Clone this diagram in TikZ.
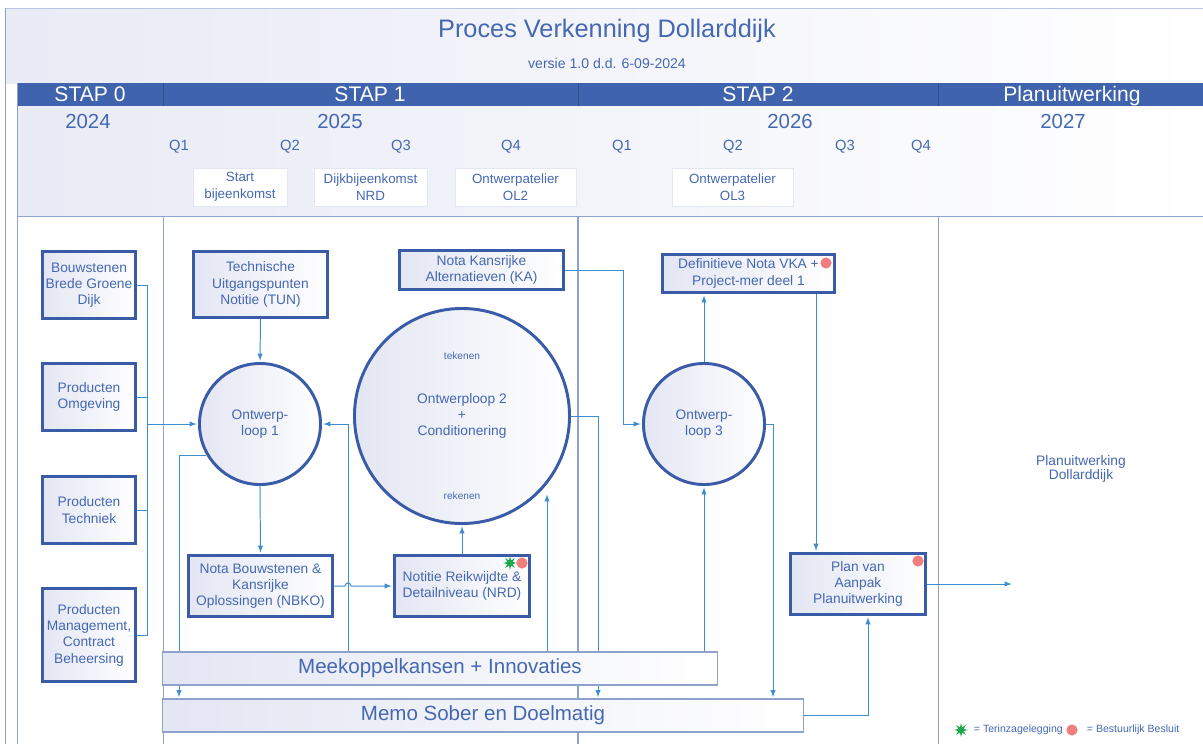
\documentclass[tikz,border=0pt]{standalone}
\usepackage{fontspec}
\setmainfont{Liberation Sans}
\usetikzlibrary{shapes.geometric}

\definecolor{band}{HTML}{3F63AD}
\definecolor{txt}{HTML}{4568B2}
\definecolor{rim}{HTML}{3A5BA8}
\definecolor{wire}{HTML}{3E8DD0}
\definecolor{rule}{HTML}{8EA2CE}
\definecolor{haze}{HTML}{E3E6F3}
\definecolor{besluit}{HTML}{F27F7F}
\definecolor{inzage}{HTML}{1FA84A}

\begin{document}
\begin{tikzpicture}[x=0.025cm,y=-0.025cm,>=latex,
    box/.style={draw=rim,line width=2.1pt,left color=haze,right color=white,text=txt,align=center,font=\fontsize{9.8}{11.6}\selectfont,inner sep=1pt},
    ring/.style={circle,draw=rim,line width=2.1pt,left color=haze,right color=white,text=txt,align=center,font=\fontsize{9.8}{11.6}\selectfont,inner sep=0pt},
    lane/.style={draw=rule,line width=0.8pt,left color=haze,right color=white,text=txt,font=\fontsize{14.6}{16}\selectfont,inner sep=0pt},
    eventbox/.style={draw=haze,line width=0.5pt,fill=white,text=txt,align=center,font=\fontsize{9.5}{12}\selectfont,inner sep=0pt,minimum height=0.95cm},
    tag/.style={text=txt,font=\fontsize{#1}{#1}\selectfont},
    stap/.style={text=white,anchor=base,font=\fontsize{15}{17}\selectfont},
    link/.style={draw=wire,line width=0.7pt,shorten >=1pt},
    reddot/.style={circle,fill=besluit,minimum size=0.28cm,inner sep=0pt},
    greenstar/.style={star,star points=8,star point ratio=2.4,fill=inzage,minimum size=0.34cm,inner sep=0pt}]

    \useasboundingbox (0,0) rectangle (1203,744);
    \fill[white] (0,0) rectangle (1203,744);

    \fill[left color=haze!80,right color=white] (5,8) rectangle (1203,83);
    \fill[left color=haze!80,right color=white] (17,106) rectangle (1203,216);
    \fill[band] (17,83) rectangle (1203,106);
    \draw[rule!60] (5,8) -- (1203,8);
    \draw[rule] (17,216) -- (1203,216);
    \draw[band!80!black] (163,83) -- (163,106);
    \draw[band!80!black] (578,83) -- (578,106);
    \draw[band!80!black] (938,83) -- (938,106);

    \draw[rule] (5,8) -- (5,744);
    \draw[rule] (17,83) -- (17,744);
    \draw[rule] (163,216) -- (163,744);
    \draw[rule,line width=1pt] (578,216) -- (578,744);
    \draw[rule] (938,216) -- (938,744);

    \node (title) at (607,31) [tag=18] {Proces Verkenning Dollarddijk};
    \node (versie) at (607,63) [tag=10] {versie 1.0 d.d. 6-09-2024};

    \node (stap0) at (90,101) [stap] {STAP 0};
    \node (stap1) at (370,101) [stap] {STAP 1};
    \node (stap2) at (758,101) [stap] {STAP 2};
    \node (stap3) at (1072,101) [stap] {Planuitwerking};

    \node (y2024) at (88,121) [tag=14.5] {2024};
    \node (y2025) at (340,121) [tag=14.5] {2025};
    \node (y2026) at (790,121) [tag=14.5] {2026};
    \node (y2027) at (1063,121) [tag=14.5] {2027};

    \node (q1a) at (179,147) [tag=10.5] {Q1};
    \node (q2a) at (290,147) [tag=10.5] {Q2};
    \node (q3a) at (401,147) [tag=10.5] {Q3};
    \node (q4a) at (511,147) [tag=10.5] {Q4};
    \node (q1b) at (622,147) [tag=10.5] {Q1};
    \node (q2b) at (733,147) [tag=10.5] {Q2};
    \node (q3b) at (845,147) [tag=10.5] {Q3};
    \node (q4b) at (921,147) [tag=10.5] {Q4};

    \node (start) at (240,187) [eventbox,minimum width=2.35cm] {Start\\bijeenkomst};
    \node (dijk) at (370.5,187) [eventbox,minimum width=2.825cm] {Dijkbijeenkomst\\NRD};
    \node (ol2event) at (515.5,187) [eventbox,minimum width=3.025cm] {Ontwerpatelier\\OL2};
    \node (ol3event) at (732.5,187) [eventbox,minimum width=3.025cm] {Ontwerpatelier\\OL3};

    \node (bgd) at (89,285) [box,minimum width=2.325cm,minimum height=1.675cm] {Bouwstenen\\Brede Groene\\Dijk};
    \node (pom) at (89,397) [box,minimum width=2.325cm,minimum height=1.675cm] {Producten\\Omgeving};
    \node (pte) at (89,510) [box,minimum width=2.325cm,minimum height=1.675cm] {Producten\\Techniek};
    \node (pmc) at (89,635) [box,minimum width=2.325cm,minimum height=2.325cm] {Producten\\Management,\\Contract\\Beheersing};

    \node (tun) at (260.5,284.5) [box,minimum width=3.35cm,minimum height=1.65cm] {Technische\\Uitgangspunten\\Notitie (TUN)};
    \node (ol1) at (260,424) [ring,minimum size=3.025cm] {Ontwerp-\\loop 1};
    \node (nbko) at (260.5,586) [box,minimum width=3.6cm,minimum height=1.525cm] {Nota Bouwstenen \&\\Kansrijke\\Oplossingen (NBKO)};
    \node (nrd) at (462,586) [box,minimum width=3.375cm,minimum height=1.525cm] {Notitie Reikwijdte \&\\Detailniveau (NRD)};

    \node (ka) at (481.5,270) [box,minimum width=4.1cm,minimum height=0.975cm] {Nota Kansrijke\\Alternatieven (KA)};
    \node (ol2) at (462,416) [ring,minimum size=5.375cm] {Ontwerploop 2\\+\\Conditionering};
    \node (tek) at (462,356) [tag=7.2] {tekenen};
    \node (rek) at (462,496) [tag=7.2] {rekenen};

    \node (ol3) at (704,424) [ring,minimum size=3.025cm] {Ontwerp-\\loop 3};
    \node (vka) at (748.5,273.5) [box,minimum width=4.3cm,minimum height=0.95cm] {Definitieve Nota VKA +\\Project-mer deel 1};
    \node (pva) at (858,584) [box,minimum width=3.375cm,minimum height=1.525cm] {Plan van\\Aanpak\\Planuitwerking};

    \node (pu) at (1081,469) [tag=9.8,align=center] {Planuitwerking\\Dollarddijk};

    \node (memo) at (483,715.5) [lane,minimum width=16cm,minimum height=0.825cm] {Memo Sober en Doelmatig};

    \coordinate (bus) at (147,424);
    \draw[link,shorten >=0pt] (bgd.east) -| (bus);
    \draw[link,shorten >=0pt] (pom.east) -| (bus);
    \draw[link,shorten >=0pt] (pte.east) -| (bus);
    \draw[link,shorten >=0pt] (pmc.east) -| (bus);
    \draw[link,->] (bus) -- (ol1.west);
    \draw[link,->] (tun.south) -- (ol1.north);
    \draw[link,->] (ol1.south) -- (nbko.north);
    \draw[link,->] (nbko.east) -- (345,586) arc[start angle=180,end angle=0,radius=0.075cm] -- (nrd.west);
    \draw[link,->] (ol1.210) -| (memo.north -| 179,0);
    \draw[link,->] (nrd.north) -- (ol2.south);
    \draw[link,->] (ol2.east) -| (memo.north -| 598,0);
    \draw[link,->] (ka.east) -- (ka.east -| 623,0) |- (ol3.west);
    \draw[link,->] (ol3.north) -- (vka.south -| ol3.north);
    \draw[link,->] (ol3.east) -| (memo.north -| 773,0);
    \draw[link,->] (vka.south -| 816,0) -- (pva.north -| 816,0);
    \draw[link,->] (memo.east) -| (pva.south -| 868,0);
    \coordinate (plan) at (1013,584);
    \draw[link,->] (pva.east) -- (plan);

    \node (mee) at (440,668.5) [lane,minimum width=13.85cm,minimum height=0.825cm] {Meekoppelkansen + Innovaties};

    \draw[link,->] (mee.north -| 348,0) |- (ol1.east);
    \draw[link,->] (mee.north -| 547,0) -- (ol2.-45 -| 547,0);
    \draw[link,->] (mee.north -| ol3.south) -- (ol3.south);

    \node (nrdstar) at (510,563) [greenstar] {};
    \node (nrddot) at (522,563) [reddot] {};
    \node (vkadot) at (826,263) [reddot] {};
    \node (pvadot) at (918,561) [reddot] {};

    \node (lgstar) at (961,730) [greenstar] {};
    \node (lgtxt1) at (969,730) [tag=7.5,anchor=west] {= Terinzagelegging};
    \node (lgdot) at (1072,730) [reddot] {};
    \node (lgtxt2) at (1082,730) [tag=7.5,anchor=west] {= Bestuurlijk Besluit};
\end{tikzpicture}
\end{document}
